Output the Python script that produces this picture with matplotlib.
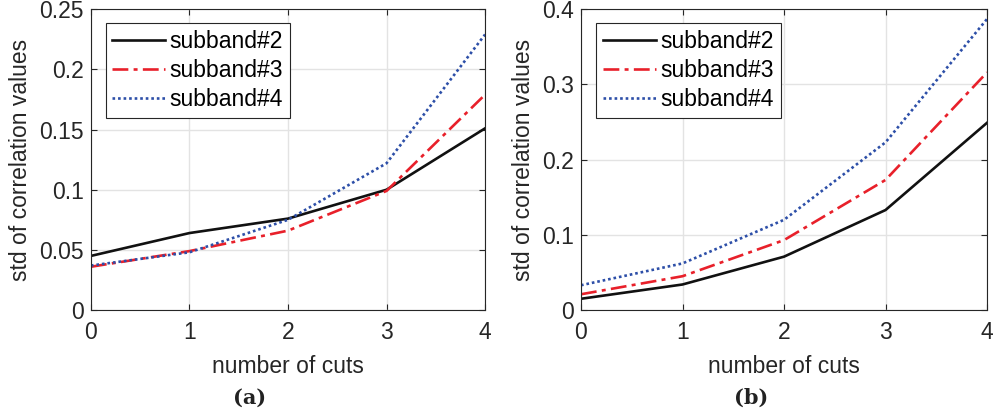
import numpy as np
import matplotlib
matplotlib.use("Agg")
import matplotlib.pyplot as plt

plt.rcParams['font.family'] = ['Liberation Sans', 'DejaVu Sans']

cuts = [0, 1, 2, 3, 4]
labels = ['subband#2', 'subband#3', 'subband#4']

# panel (a)
a_sb2 = [0.045, 0.064, 0.076, 0.100, 0.151]
a_sb3 = [0.036, 0.049, 0.066, 0.099, 0.179]
a_sb4 = [0.037, 0.048, 0.075, 0.122, 0.229]
# panel (b)
b_sb2 = [0.015, 0.034, 0.071, 0.133, 0.249]
b_sb3 = [0.021, 0.045, 0.093, 0.173, 0.316]
b_sb4 = [0.033, 0.062, 0.120, 0.223, 0.387]

a_yticks = [0, 0.05, 0.1, 0.15, 0.2, 0.25]
a_yticklabels = ['0', '0.05', '0.1', '0.15', '0.2', '0.25']
b_yticks = [0, 0.1, 0.2, 0.3, 0.4]
b_yticklabels = ['0', '0.1', '0.2', '0.3', '0.4']

styles = [dict(color='#111111', ls='-', lw=1.9),
          dict(color='#e8202a', ls=(0, (6, 2, 1.5, 2)), lw=1.9),
          dict(color='#2d4fa8', ls=(0, (1, 1.1)), lw=1.9)]

fig = plt.figure(figsize=(9.94, 4.19), dpi=100)
ax1 = fig.add_axes([0.0915, 0.26, 0.3965, 0.718])
ax2 = fig.add_axes([0.5845, 0.26, 0.4085, 0.718])

tc = '#262626'
fs = 16.5
def setup(ax, series, yt, ytl, ylim):
    for s, lab, st in zip(series, labels, styles):
        ax.plot(cuts, s, label=lab, **st)
    ax.set_xlim(0, 4)
    ax.set_ylim(*ylim)
    ax.set_xticks(cuts)
    ax.set_yticks(yt)
    ax.set_yticklabels(ytl)
    ax.grid(True, color='#e3e3e3', lw=1)
    ax.set_axisbelow(True)
    ax.tick_params(axis='both', direction='in', top=True, right=True,
                   labelsize=fs, colors=tc, length=4)
    ax.tick_params(axis='x', pad=8)
    ax.tick_params(axis='y', pad=5)
    for sp in ax.spines.values():
        sp.set_color(tc)
        sp.set_linewidth(0.8)
    ax.set_xlabel('number of cuts', fontsize=fs, color=tc, labelpad=8)
    ax.set_ylabel('std of correlation values', fontsize=fs, color=tc, labelpad=5)
    leg = ax.legend(loc='upper left', fontsize=fs, handlelength=2.3,
                    handletextpad=0.2, borderpad=0.3, labelspacing=0.25,
                    borderaxespad=0, fancybox=False, edgecolor=tc,
                    framealpha=1, bbox_to_anchor=(0.037, 0.953))
    leg.get_frame().set_linewidth(0.8)

setup(ax1, [a_sb2, a_sb3, a_sb4], a_yticks, a_yticklabels, (0, 0.25))
setup(ax2, [b_sb2, b_sb3, b_sb4], b_yticks, b_yticklabels, (0, 0.4))

fig.text(0.2515, 0.05, '(a)', ha='center', va='center', fontsize=15,
         fontweight='bold', family='DejaVu Serif', color='#222222')
fig.text(0.7555, 0.05, '(b)', ha='center', va='center', fontsize=15,
         fontweight='bold', family='DejaVu Serif', color='#222222')

fig.savefig('out.png', dpi=100)
